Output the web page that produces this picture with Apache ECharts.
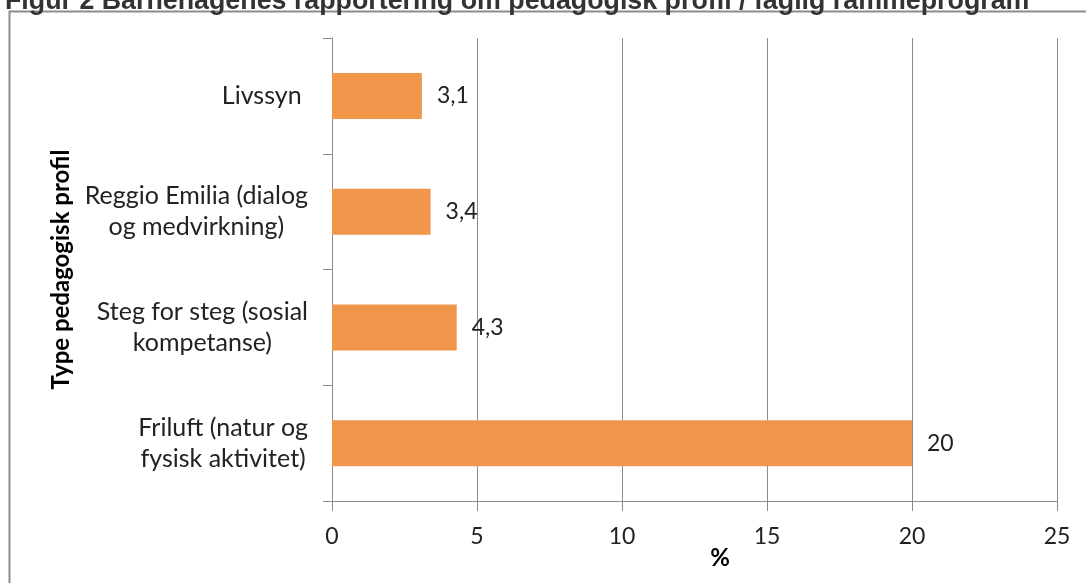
<!DOCTYPE html>
<html>
<head>
<meta charset="utf-8">
<script src="https://cdn.jsdelivr.net/npm/echarts@6/dist/echarts.min.js"></script>
<style>
  html, body { margin: 0; padding: 0; background: #fff; }
  #chart { width: 1086px; height: 583px; }
</style>
</head>
<body>
<div id="chart"></div>
<script>
  // categories bottom -> top (ECharts category axis starts at the bottom)
  var profiles = [
    'Friluft (natur og\nfysisk aktivitet)',
    'Steg for steg (sosial\nkompetanse)',
    'Reggio Emilia (dialog\nog medvirkning)',
    'Livssyn '
  ]
  var percent = [20, 4.3, 3.4, 3.1]
  var xTicks = [0, 5, 10, 15, 20, 25]

  var font = 'Lato, "Open Sans", sans-serif'
  var chart = echarts.init(document.getElementById('chart'))

  chart.setOption({
    animation: false,
    title: {
      text: 'Figur 2 Barnehagenes rapportering om pedagogisk profil / faglig rammeprogram',
      left: 0,
      top: -17,
      textStyle: {
        fontFamily: '"Liberation Sans", Arial, sans-serif',
        fontWeight: 'bold',
        fontSize: 26.8,
        color: '#333'
      }
    },
    graphic: [{
      type: 'rect',
      shape: { x: 9.5, y: 11.5, width: 1100, height: 600 },
      style: { fill: 'none', stroke: '#8c8c8c', lineWidth: 2 },
      silent: true
    }],
    grid: {
      left: 332,
      right: 29,
      top: 38,
      bottom: 82
    },
    xAxis: {
      type: 'value',
      min: xTicks[0],
      max: xTicks[xTicks.length - 1],
      interval: 5,
      name: '%',
      nameLocation: 'middle',
      nameGap: 45,
      nameMoveOverlap: false,
      nameTextStyle: {
        fontFamily: font, fontWeight: 'bold', fontSize: 24, color: '#000',
        padding: [0, 0, 0, 51]
      },
      axisLine: { show: true, lineStyle: { color: '#8c8c8c', width: 1 } },
      axisTick: { show: true, length: 10, lineStyle: { color: '#8c8c8c' } },
      axisLabel: { margin: 24, fontFamily: font, fontSize: 23, color: '#222' },
      splitLine: { show: true, lineStyle: { color: '#8c8c8c', width: 1 } }
    },
    yAxis: {
      type: 'category',
      data: profiles,
      name: 'Type pedagogisk profil',
      nameLocation: 'middle',
      nameGap: 258,
      nameRotate: 90,
      nameTextStyle: { fontFamily: font, fontWeight: 'bold', fontSize: 24, color: '#000' },
      axisLine: { show: true, lineStyle: { color: '#8c8c8c', width: 1 } },
      axisTick: { show: true, length: 9, lineStyle: { color: '#8c8c8c' } },
      axisLabel: {
        margin: 24,
        fontFamily: font,
        fontSize: 25,
        lineHeight: 31,
        color: '#222',
        // center every line inside the right-aligned label block
        formatter: function(v) {
          return v.split('\n').map(function(line) { return '{c|' + line + '}' }).join('\n')
        },
        rich: {
          c: { align: 'center', fontFamily: font, fontSize: 25, lineHeight: 31, color: '#222' }
        }
      }
    },
    series: [{
      type: 'bar',
      data: percent,
      barWidth: 46,
      itemStyle: { color: '#F0964A' },
      label: {
        show: true,
        position: 'right',
        distance: 15,
        fontFamily: font,
        fontSize: 23,
        color: '#222',
        formatter: function(p) { return String(p.value).replace('.', ',') }
      }
    }]
  })
</script>
</body>
</html>
